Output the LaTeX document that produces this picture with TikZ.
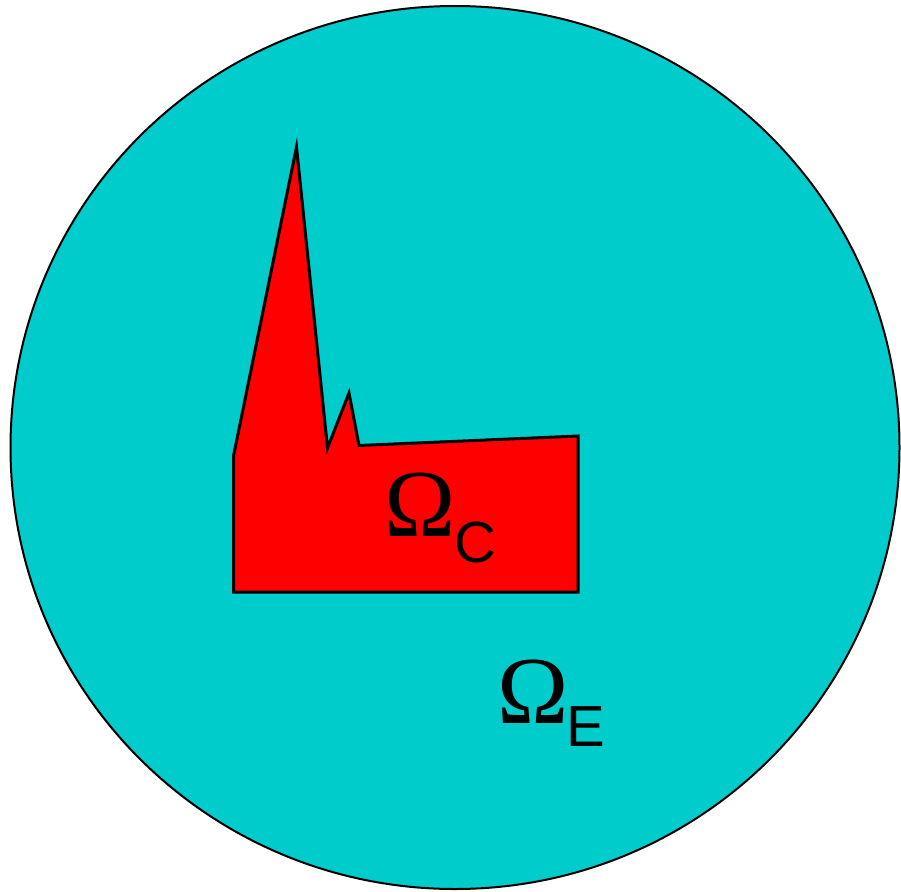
\documentclass[tikz,border=0pt]{standalone}
\usepackage{fontspec}
\setmainfont{Liberation Serif}
\newfontfamily\subfont{Liberation Sans}
\definecolor{regionE}{RGB}{0,204,204}
\definecolor{regionC}{RGB}{255,0,0}
\begin{document}
\begin{tikzpicture}[x=1pt,y=-1pt,
  omegalabel/.style={anchor=base west,inner sep=0pt,font=\fontsize{96}{100}\selectfont},
  sublabel/.style={anchor=base west,inner sep=0pt,font=\subfont\fontsize{58}{62}\selectfont}]
\useasboundingbox (0,0) rectangle (901,891);
\fill[white] (0,0) rectangle (901,891);
\draw[line width=2pt,fill=regionE] (455,447.5) ellipse [x radius=444.5,y radius=441.5];
\draw[line width=3pt,fill=regionC,line join=miter]
  (233.5,456) -- (296.5,147) -- (327.5,448) -- (349,393) -- (359,445.5)
  -- (578,436) -- (578,592) -- (233.5,592) -- cycle;
\node[omegalabel] (omc) at (384,536) {Ω};
\node[sublabel] (subc) at (454,562) {C};
\node[omegalabel] (ome) at (497,723) {Ω};
\node[sublabel] (sube) at (566,746) {E};
\end{tikzpicture}
\end{document}
